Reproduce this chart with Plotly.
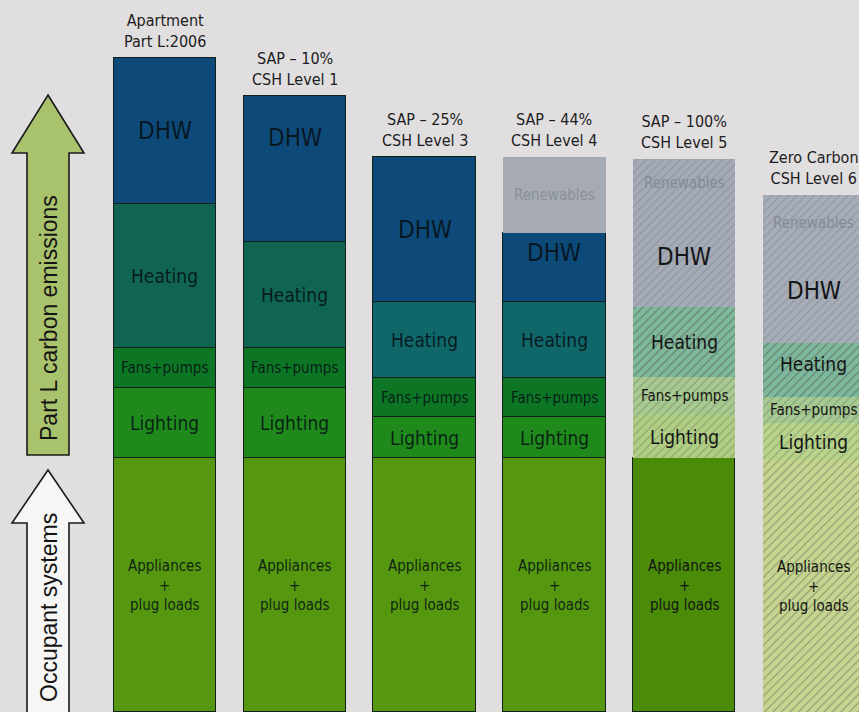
import plotly.graph_objects as go

W, H = 859, 712

# ---- data -------------------------------------------------------------
categories = [
    "Apartment<br>Part L:2006",
    "SAP – 10%<br>CSH Level 1",
    "SAP – 25%<br>CSH Level 3",
    "SAP – 44%<br>CSH Level 4",
    "SAP – 100%<br>CSH Level 5",
    "Zero Carbon<br>CSH Level 6",
]

# relative annual emissions per end use (stacked bottom -> top)
appliances = [127, 127, 127, 127, 127, 126]
lighting = [35, 35, 20.5, 20.5, 21.5, 18.5]
fans_pumps = [20, 20, 19.5, 19.5, 19, 13]
heating = [72, 53, 38, 38, 35, 27]
dhw = [73, 73, 72.5, 34.5, 50, 46.5]
renewables = [0, 0, 0, 38, 24, 27.5]

segment_names = ["Appliances", "Lighting", "Fans+pumps", "Heating", "DHW", "Renewables"]
segment_values = [appliances, lighting, fans_pumps, heating, dhw, renewables]
segment_labels = ["Appliances<br>+<br>plug loads", "Lighting", "Fans+pumps",
                  "Heating", "DHW", "Renewables"]

# ---- styling ----------------------------------------------------------
FONT_NARROW = "Liberation Sans Narrow, Arial Narrow, DejaVu Sans Condensed, sans-serif"
FONT_REG = "Liberation Sans, Arial, Helvetica, sans-serif"
EDGE = "#12201c"
BG = "#e1dee0"

styles = {
    "Appliances": dict(color=["#55970f"] * 4 + ["#4a8c08", "#c5d58f"],
                       shape=[""] * 5 + ["/"],
                       fg=["#55970f"] * 5 + ["#8fa660"],
                       op=0.45, lw=[1.2] * 5 + [0]),
    "Lighting": dict(color=["#1f8a1b"] * 4 + ["#b1cf84", "#b8d48b"],
                     shape=[""] * 4 + ["/", "/"],
                     fg=["#1f8a1b"] * 4 + ["#8db266", "#8fb46a"],
                     op=0.35, lw=[1.2] * 4 + [0, 0]),
    "Fans+pumps": dict(color=["#0c7624"] * 4 + ["#a8ca90", "#a6cb92"],
                       shape=[""] * 4 + ["/", "/"],
                       fg=["#0c7624"] * 4 + ["#84ad72", "#82ad74"],
                       op=0.35, lw=[1.2] * 4 + [0, 0]),
    "Heating": dict(color=["#0f6552", "#0f6552", "#10676a", "#10676a", "#80b89b", "#7db89c"],
                    shape=[""] * 4 + ["/", "/"],
                    fg=["#0f6552"] * 4 + ["#4e8f78", "#4d8f79"],
                    op=0.55, lw=[1.2] * 4 + [0, 0]),
    "DHW": dict(color=["#0e4a79"] * 4 + ["#a4abb7", "#a6adb9"],
                shape=[""] * 4 + ["/", "/"],
                fg=["#0e4a79"] * 4 + ["#8c93a2", "#8c93a2"],
                op=0.25, lw=[1.2] * 4 + [0, 0]),
    "Renewables": dict(color=["#a6abb3"] * 4 + ["#a4abb7", "#a6adb9"],
                       shape=[""] * 4 + ["/", "/"],
                       fg=["#a6abb3"] * 4 + ["#8c93a2", "#8c93a2"],
                       op=0.25, lw=[0] * 6),
}

label_size = {"Appliances": 15, "Lighting": 19, "Fans+pumps": 15,
              "Heating": 19, "DHW": 24, "Renewables": 15}

x_pos = list(range(len(categories)))

fig = go.Figure()
for name, vals in zip(segment_names, segment_values):
    st = styles[name]
    fig.add_trace(go.Bar(
        x=x_pos, y=vals, name=name, width=0.79,
        marker=dict(
            color=st["color"],
            line=dict(color=EDGE, width=st["lw"]),
            pattern=dict(shape=st["shape"], fgcolor=st["fg"], size=6,
                         solidity=0.18, fillmode="overlay", fgopacity=st["op"]),
        ),
        hoverinfo="skip", showlegend=False,
    ))

# ---- segment labels ---------------------------------------------------
# small vertical nudges for labels that sit off-centre in their block
nudge = {("DHW", 1): 31, ("DHW", 3): 15, ("DHW", 5): 6, ("Heating", 5): 6}

annotations = []
base = [0.0] * len(categories)
for name, vals, text in zip(segment_names, segment_values, segment_labels):
    for i, v in enumerate(vals):
        if v > 0:
            light = i >= 4
            if name == "Renewables":
                col = "#8a909a" if i == 3 else "#848b96"
            else:
                col = "#141414" if light else "rgba(6,16,22,0.88)"
            annotations.append(dict(
                x=i, y=base[i] + v / 2, text=text, showarrow=False,
                xanchor="center", yanchor="middle",
                yshift=nudge.get((name, i), 0),
                font=dict(family=FONT_NARROW, size=label_size[name], color=col),
            ))
        base[i] += v

# ---- category titles above each stack --------------------------------
for i, cat in enumerate(categories):
    annotations.append(dict(
        x=i, y=base[i], text=cat, showarrow=False,
        xanchor="center", yanchor="bottom", yshift=5,
        font=dict(family=FONT_NARROW, size=16, color="#1c1c1c"),
    ))


# ---- side arrows ------------------------------------------------------
def px(x, y):
    return x / W, 1 - y / H


def arrow_path(tip_y, head_y, bottom_y, cx=48, head_half=36, shaft_half=21):
    pts = [(cx, tip_y), (cx + head_half, head_y), (cx + shaft_half, head_y),
           (cx + shaft_half, bottom_y), (cx - shaft_half, bottom_y),
           (cx - shaft_half, head_y), (cx - head_half, head_y)]
    conv = [px(a, b) for a, b in pts]
    return "M " + " L ".join(f"{a:.5f},{b:.5f}" for a, b in conv) + " Z"


shapes = [
    dict(type="path", xref="paper", yref="paper",
         path=arrow_path(95, 153, 455), fillcolor="#a9c26c",
         line=dict(color="#1a1a1a", width=1.6), layer="above"),
    dict(type="path", xref="paper", yref="paper",
         path=arrow_path(470, 523, 720), fillcolor="#f6f6f4",
         line=dict(color="#1a1a1a", width=1.6), layer="above"),
]

for text, yc in [("Part L carbon emissions", 318), ("Occupant systems", 608)]:
    xa, ya = px(49, yc)
    annotations.append(dict(
        x=xa, y=ya, xref="paper", yref="paper", text=text, showarrow=False,
        textangle=-90, xanchor="center", yanchor="middle",
        font=dict(family=FONT_REG, size=23, color="#141414"),
    ))

fig.update_layout(
    width=W, height=H, barmode="stack", bargap=0,
    margin=dict(l=0, r=0, t=0, b=0),
    paper_bgcolor=BG, plot_bgcolor=BG,
    xaxis=dict(range=[-1.271, 5.347], visible=False, fixedrange=True),
    yaxis=dict(range=[0, 356], visible=False, fixedrange=True),
    annotations=annotations, shapes=shapes,
)

fig.write_html("out.html")
